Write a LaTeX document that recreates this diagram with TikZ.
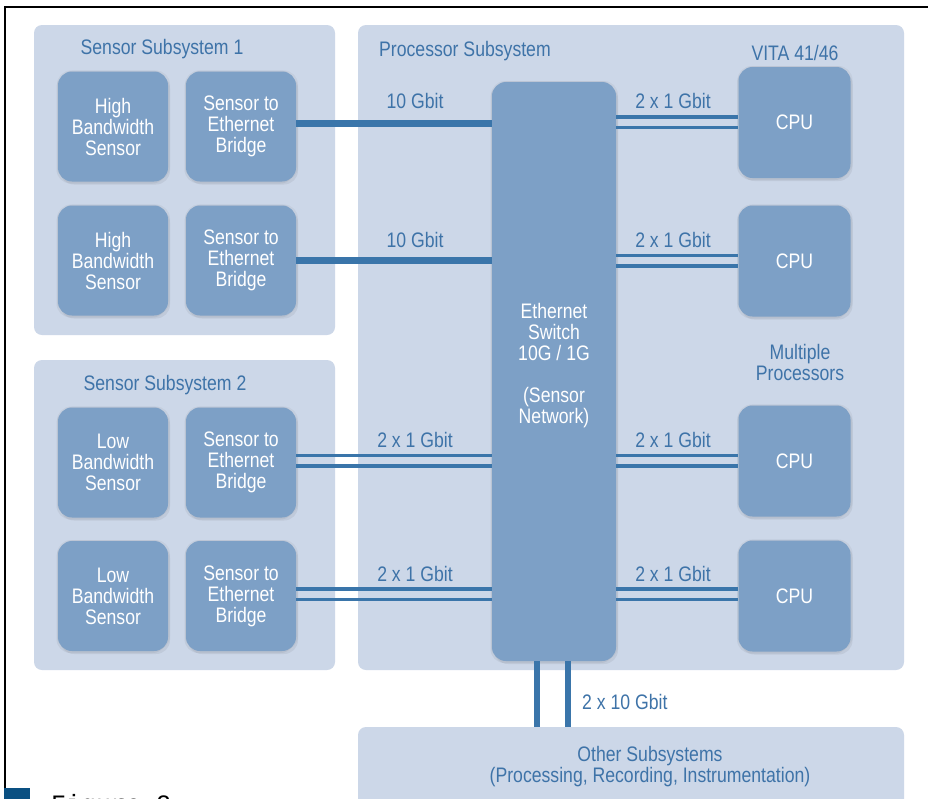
\documentclass[tikz,border=0pt]{standalone}
\usepackage{fontspec}
\setmainfont{Liberation Sans}[FakeStretch=0.84]
\newfontfamily\figfont{Liberation Mono}
\usetikzlibrary{shadows}
\definecolor{panelc}{RGB}{204,215,232}
\definecolor{boxc}{RGB}{125,160,198}
\definecolor{linec}{RGB}{58,117,170}
\definecolor{txtc}{RGB}{62,115,168}
\definecolor{figc}{RGB}{10,80,130}
\tikzset{
  panel/.style={fill=panelc, rounded corners=8pt, inner sep=0pt, draw=none},
  softshadow/.style={
    general shadow={fill=black, opacity=0.06, shadow xshift=2pt, shadow yshift=-3pt},
    general shadow={fill=black, opacity=0.05, shadow xshift=-1.5pt, shadow yshift=-2pt},
    general shadow={fill=black, opacity=0.04, shadow xshift=2pt, shadow yshift=1pt},
    general shadow={fill=black, opacity=0.04, shadow xshift=-1pt, shadow yshift=1pt}},
  blk/.style={softshadow, fill=boxc, rounded corners=14pt, text=white, align=center,
    inner sep=0pt, font=\fontsize{21}{21}\selectfont},
  sensorbox/.style={blk, minimum width=110pt, minimum height=110pt},
  cpubox/.style={blk, minimum width=112pt, minimum height=111pt},
  ttl/.style={text=txtc, font=\fontsize{21}{21}\selectfont, inner sep=0pt, align=center},
  lbl/.style={text=txtc, font=\fontsize{21}{21}\selectfont, inner sep=0pt},
  thicklink/.style={draw=linec, line width=7pt},
  thinlink/.style={draw=linec, line width=3.6pt},
  vlink/.style={draw=linec, line width=6.5pt},
}
\begin{document}
\begin{tikzpicture}[x=1pt, y=-1pt]
\useasboundingbox (0,0) rectangle (928,798);
\clip (0,0) rectangle (928,798);
\fill[white] (0,0) rectangle (928,798);
% frame
\draw[black, line width=1.6pt] (5,798) -- (5,7) -- (930,7);
\fill[figc] (4.2,788) rectangle (30,800);
\node[anchor=base west, font=\figfont\fontsize{25}{25}\selectfont, inner sep=0pt, text=black] (figlabel) at (51,812) {Figure 2};

% panels
\node[panel, minimum width=301pt, minimum height=310pt] (ss1) at (184.5,180) {};
\node[panel, minimum width=301pt, minimum height=310pt] (ss2) at (184.5,515) {};
\node[panel, minimum width=546pt, minimum height=645pt] (proc) at (631,347.5) {};
\node[panel, minimum width=546pt, minimum height=100pt] (other) at (631,777) {};

% panel titles
\node[ttl] (t1) at (162,49) {Sensor Subsystem 1};
\node[ttl] (t2) at (165,385) {Sensor Subsystem 2};
\node[ttl, anchor=west] (tp) at (379,51) {Processor Subsystem};
\node[ttl] (tv) at (795,53) {VITA 41/46};
\node[ttl] (tm) at (800,362) {Multiple\\Processors};
\node[ttl] (to) at (650,767) {Other Subsystems\\(Processing, Recording, Instrumentation)};

% sensor boxes
\node[sensorbox] (s1) at (113,126.5) {High\\Bandwidth\\Sensor};
\node[sensorbox] (b1) at (241,126.5) {Sensor to\\Ethernet\\Bridge};
\node[sensorbox] (s2) at (113,260.5) {High\\Bandwidth\\Sensor};
\node[sensorbox] (b2) at (241,260.5) {Sensor to\\Ethernet\\Bridge};
\node[sensorbox] (s3) at (113,462.5) {Low\\Bandwidth\\Sensor};
\node[sensorbox] (b3) at (241,462.5) {Sensor to\\Ethernet\\Bridge};
\node[sensorbox] (s4) at (113,596) {Low\\Bandwidth\\Sensor};
\node[sensorbox] (b4) at (241,596) {Sensor to\\Ethernet\\Bridge};

% switch
\node[blk, minimum width=124pt, minimum height=579pt] (sw) at (554,371.5) {};
\node[text=white, align=center, inner sep=0pt, font=\fontsize{21}{21}\selectfont] (swt) at (554,366) {Ethernet\\Switch\\10G / 1G\\[21pt](Sensor\\Network)};

% CPUs
\node[cpubox] (c1) at (794.5,122.5) {CPU};
\node[cpubox] (c2) at (794.5,261) {CPU};
\node[cpubox] (c3) at (794.5,461) {CPU};
\node[cpubox] (c4) at (794.5,596) {CPU};

% links: sensors side
\draw[thicklink] (b1.east |- 0,123) -- (sw.west |- 0,123);
\draw[thicklink] (b2.east |- 0,260) -- (sw.west |- 0,260);
\draw[thinlink] (b3.east |- 0,455.5) -- (sw.west |- 0,455.5);
\draw[thinlink] (b3.east |- 0,466) -- (sw.west |- 0,466);
\draw[thinlink] (b4.east |- 0,589) -- (sw.west |- 0,589);
\draw[thinlink] (b4.east |- 0,599.5) -- (sw.west |- 0,599.5);
% links: cpu side
\draw[thinlink] (sw.east |- 0,117) -- (c1.west |- 0,117);
\draw[thinlink] (sw.east |- 0,127.5) -- (c1.west |- 0,127.5);
\draw[thinlink] (sw.east |- 0,255.5) -- (c2.west |- 0,255.5);
\draw[thinlink] (sw.east |- 0,266) -- (c2.west |- 0,266);
\draw[thinlink] (sw.east |- 0,455.5) -- (c3.west |- 0,455.5);
\draw[thinlink] (sw.east |- 0,466) -- (c3.west |- 0,466);
\draw[thinlink] (sw.east |- 0,589) -- (c4.west |- 0,589);
\draw[thinlink] (sw.east |- 0,599.5) -- (c4.west |- 0,599.5);
% links: to other subsystems
\draw[vlink] (sw.south -| 537,0) -- (other.north -| 537,0);
\draw[vlink] (sw.south -| 568,0) -- (other.north -| 568,0);

% link labels
\node[lbl] (l1) at (415,101) {10 Gbit};
\node[lbl] (l2) at (415,240) {10 Gbit};
\node[lbl] (l3) at (415,440) {2 x 1 Gbit};
\node[lbl] (l4) at (415,574) {2 x 1 Gbit};
\node[lbl] (r1) at (673,101) {2 x 1 Gbit};
\node[lbl] (r2) at (673,240) {2 x 1 Gbit};
\node[lbl] (r3) at (673,440) {2 x 1 Gbit};
\node[lbl] (r4) at (673,574) {2 x 1 Gbit};
\node[lbl, anchor=west] (l10) at (582,702) {2 x 10 Gbit};
\end{tikzpicture}
\end{document}
